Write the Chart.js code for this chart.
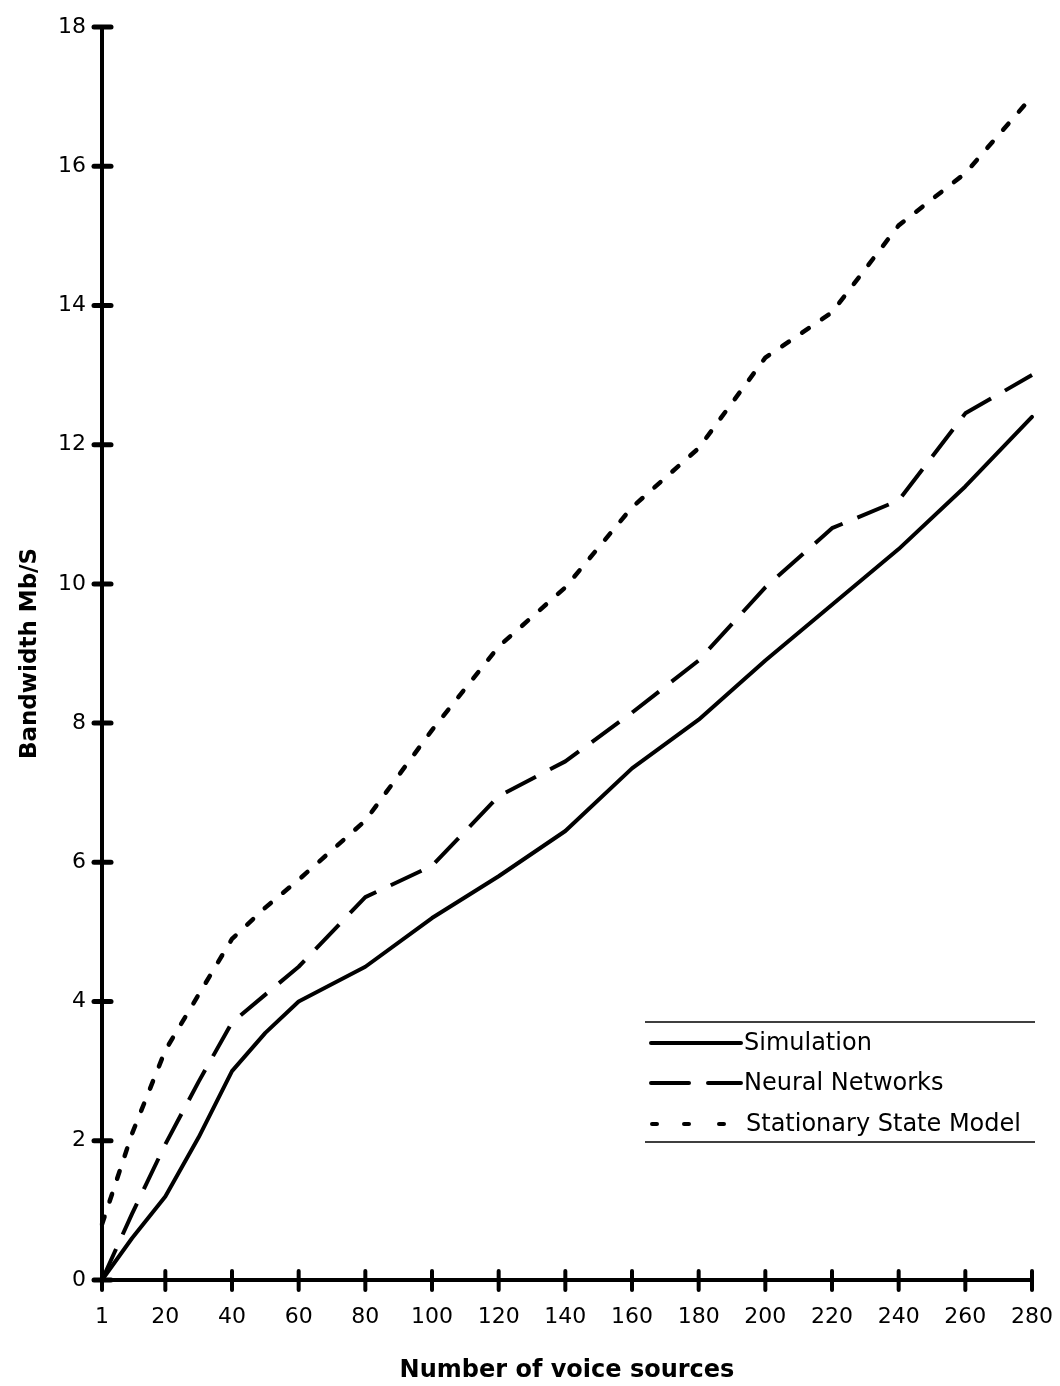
<!DOCTYPE html>
<html>
<head>
<meta charset="utf-8">
<script src="https://cdn.jsdelivr.net/npm/chart.js@4/dist/chart.umd.min.js"></script>
<style>
  html, body { margin: 0; padding: 0; background: #fff; }
  #wrap { width: 1060px; height: 1386px; position: relative; }
  canvas { display: block; }
</style>
</head>
<body>
<div id="wrap"><canvas id="bw" width="1060" height="1386"></canvas></div>
<script>
// Number of voice sources sampled along the x axis
const sources = [1, 10, 20, 30, 40, 50, 60, 80, 100, 120, 140, 160, 180, 200, 220, 240, 260, 280];

// Required bandwidth (Mb/S) for each number of sources
const simulation      = [0, 0.6, 1.2, 2.05, 3.0, 3.55, 4.0, 4.5, 5.2, 5.8, 6.45, 7.35, 8.05, 8.9, 9.7, 10.5, 11.4, 12.4];
const neuralNetworks  = [0, 0.95, 1.95, 2.85, 3.7, 4.1, 4.5, 5.5, 5.95, 6.95, 7.45, 8.15, 8.9, 9.95, 10.8, 11.2, 12.45, 13.0];
const stationaryModel = [0.8, 2.1, 3.3, 4.1, 4.9, 5.35, 5.75, 6.6, 7.9, 9.1, 9.95, 11.1, 11.95, 13.25, 13.9, 15.15, 15.9, 17.0];

// Axis tick labels
const xTicks = [1, 20, 40, 60, 80, 100, 120, 140, 160, 180, 200, 220, 240, 260, 280];
const yTicks = [0, 2, 4, 6, 8, 10, 12, 14, 16, 18];

const seriesNames = ['Simulation', 'Neural Networks', 'Stationary State Model'];

const FONT = '"DejaVu Sans", "Liberation Sans", Arial, sans-serif';

function toPoints(values) {
  return sources.map((x, i) => ({ x: x, y: values[i] }));
}

// Tick marks that cross the axis lines
const crossTicks = {
  id: 'crossTicks',
  afterDraw(chart) {
    const ctx = chart.ctx;
    const xs = chart.scales.x, ys = chart.scales.y;
    const area = chart.chartArea;
    ctx.save();
    ctx.strokeStyle = '#000';
    ctx.lineCap = 'round';
    ctx.lineWidth = 5;
    yTicks.forEach(v => {
      const y = ys.getPixelForValue(v);
      ctx.beginPath();
      ctx.moveTo(area.left - 8, y);
      ctx.lineTo(area.left + 9, y);
      ctx.stroke();
    });
    ctx.lineWidth = 4;
    xTicks.forEach(v => {
      const x = xs.getPixelForValue(v);
      ctx.beginPath();
      ctx.moveTo(x, area.bottom - 9);
      ctx.lineTo(x, area.bottom + 10);
      ctx.stroke();
    });
    ctx.restore();
  }
};

// Legend box in the lower right of the plot
const boxLegend = {
  id: 'boxLegend',
  afterDraw(chart) {
    const ctx = chart.ctx;
    const left = 645, right = 1035, top = 1022, bottom = 1142;
    const rows = [1043, 1083, 1124];
    ctx.save();
    ctx.strokeStyle = '#000';
    ctx.lineWidth = 1.5;
    ctx.beginPath();
    ctx.moveTo(left, top); ctx.lineTo(right, top);
    ctx.moveTo(left, bottom); ctx.lineTo(right, bottom);
    ctx.stroke();
    chart.data.datasets.forEach((ds, i) => {
      const y = rows[i];
      ctx.save();
      ctx.strokeStyle = ds.borderColor;
      ctx.lineWidth = 4;
      ctx.lineCap = 'round';
      ctx.beginPath();
      if (i === 1) {
        ctx.moveTo(651, y); ctx.lineTo(689, y);
        ctx.moveTo(708, y); ctx.lineTo(741, y);
      } else if (i === 2) {
        [652, 684, 719].forEach(px => { ctx.moveTo(px, y); ctx.lineTo(px + 5, y); });
      } else {
        ctx.moveTo(651, y); ctx.lineTo(741, y);
      }
      ctx.stroke();
      ctx.restore();
      ctx.fillStyle = '#000';
      ctx.font = '24px ' + FONT;
      ctx.textBaseline = 'middle';
      ctx.textAlign = 'left';
      ctx.fillText(ds.label, i === 2 ? 746 : 744, y + 1);
    });
    ctx.restore();
  }
};

new Chart(document.getElementById('bw'), {
  type: 'line',
  data: {
    datasets: [
      {
        label: seriesNames[0],
        data: toPoints(simulation),
        borderColor: '#000',
        borderWidth: 4,
        borderJoinStyle: 'round',
        borderCapStyle: 'round',
        pointRadius: 0,
        clip: false
      },
      {
        label: seriesNames[1],
        data: toPoints(neuralNetworks),
        borderColor: '#000',
        borderWidth: 4,
        borderDash: [34, 16],
        borderJoinStyle: 'round',
        pointRadius: 0,
        clip: false
      },
      {
        label: seriesNames[2],
        data: toPoints(stationaryModel),
        borderColor: '#000',
        borderWidth: 4.5,
        borderDash: [8, 16],
        borderCapStyle: 'round',
        pointRadius: 0,
        clip: false
      }
    ]
  },
  options: {
    responsive: false,
    animation: false,
    devicePixelRatio: 1,
    layout: { padding: { left: 0, top: 27, right: 28, bottom: 0 } },
    plugins: {
      legend: { display: false },
      tooltip: { enabled: false }
    },
    scales: {
      x: {
        type: 'linear',
        min: 1,
        max: 280,
        afterBuildTicks: s => { s.ticks = xTicks.map(v => ({ value: v })); },
        afterFit: s => { s.height = 106; s.paddingLeft = 0; s.paddingRight = 0; },
        grid: { display: true, drawOnChartArea: false, drawTicks: false },
        border: { display: true, color: '#000', width: 4 },
        ticks: {
          color: '#000',
          font: { family: FONT, size: 22 },
          padding: 24,
          maxRotation: 0,
          autoSkip: false,
          callback: v => String(v)
        },
        title: {
          display: true,
          text: 'Number of voice sources',
          color: '#000',
          font: { family: FONT, size: 24, weight: 'bold' },
          padding: { top: 0, bottom: 1 }
        }
      },
      y: {
        type: 'linear',
        min: 0,
        max: 18,
        afterBuildTicks: s => { s.ticks = yTicks.map(v => ({ value: v })); },
        afterFit: s => { s.width = 102; s.paddingTop = 0; s.paddingBottom = 0; },
        grid: { display: true, drawOnChartArea: false, drawTicks: false },
        border: { display: true, color: '#000', width: 4 },
        ticks: {
          color: '#000',
          font: { family: FONT, size: 22 },
          padding: 16,
          callback: v => String(v)
        },
        title: {
          display: true,
          text: 'Bandwidth Mb/S',
          color: '#000',
          font: { family: FONT, size: 23, weight: 'bold' },
          padding: { top: 16, bottom: 0 }
        }
      }
    }
  },
  plugins: [crossTicks, boxLegend]
});
</script>
</body>
</html>
